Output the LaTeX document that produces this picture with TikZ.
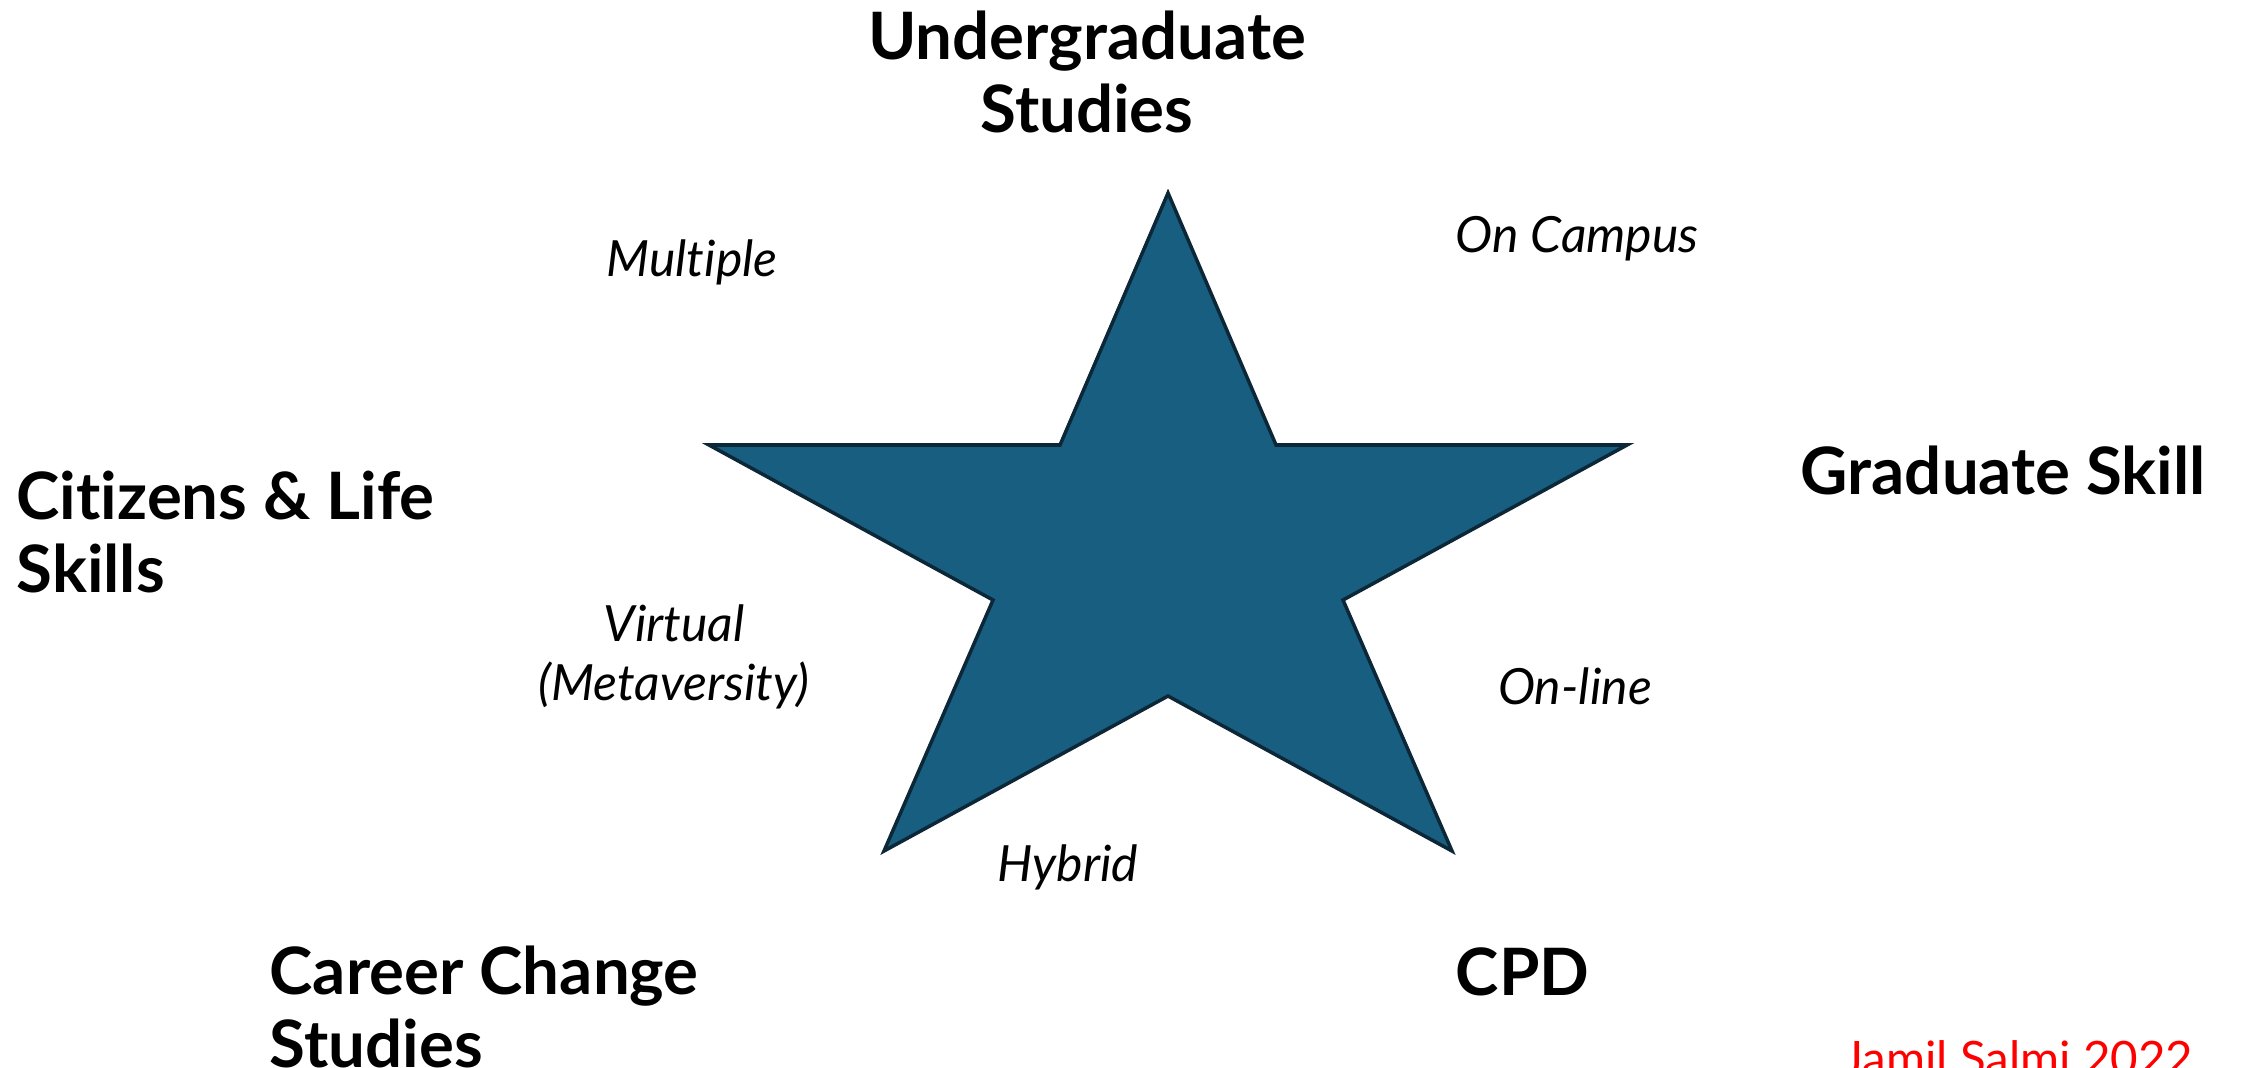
\documentclass[tikz,border=0pt]{standalone}
\usepackage{fontspec}
\setmainfont{Lato}[Ligatures=NoCommon]
\usepackage{tikz}
\usetikzlibrary{positioning}

\definecolor{starblue}{RGB}{24,94,128}
\definecolor{stardark}{RGB}{12,40,56}

\begin{document}
\begin{tikzpicture}[
    stream/.style={font=\fontsize{18.6}{21}\selectfont\bfseries, inner sep=0pt},
    mode/.style={font=\fontsize{14.2}{16.8}\selectfont\itshape, inner sep=0pt, align=center}
  ]
    \useasboundingbox (0,0) rectangle (22.41,10.67);
    % the star
    \draw[fill=starblue, draw=stardark, line width=1pt, line join=miter]
      (11.68,8.74) -- (12.76,6.22) -- (16.27,6.22) -- (13.43,4.67) -- (14.52,2.16)
      -- (11.68,3.71) -- (8.84,2.16) -- (9.93,4.67) -- (7.09,6.22) -- (10.60,6.22) -- cycle;
    % study streams
    \node[stream, align=center] (ugrad) at (10.87,9.95) {Undergraduate\\Studies};
    \node[stream, align=left, anchor=west] (citizens) at (0.16,5.35) {Citizens \& Life\\Skills};
    \node[stream, anchor=west] (gradskill) at (18.00,5.97) {Graduate Skill};
    \node[stream, align=left, anchor=west] (career) at (2.69,0.60) {Career Change\\Studies};
    \node[stream, anchor=west] (cpd) at (14.55,0.95) {CPD};
    % delivery modes
    \node[mode] (multiple) at (6.92,8.05) {Multiple};
    \node[mode] (oncampus) at (15.77,8.28) {On Campus};
    \node[mode] (virtual) at (6.74,4.10) {Virtual\\(Metaversity)};
    \node[mode] (online) at (15.75,3.81) {On-line};
    \node[mode] (hybrid) at (10.68,2.00) {Hybrid};
    \node[font=\fontsize{13.5}{16}\selectfont, text=red, inner sep=0pt, anchor=base west] (credit) at (18.43,-0.08) {Jamil Salmi 2022};
\end{tikzpicture}
\end{document}
